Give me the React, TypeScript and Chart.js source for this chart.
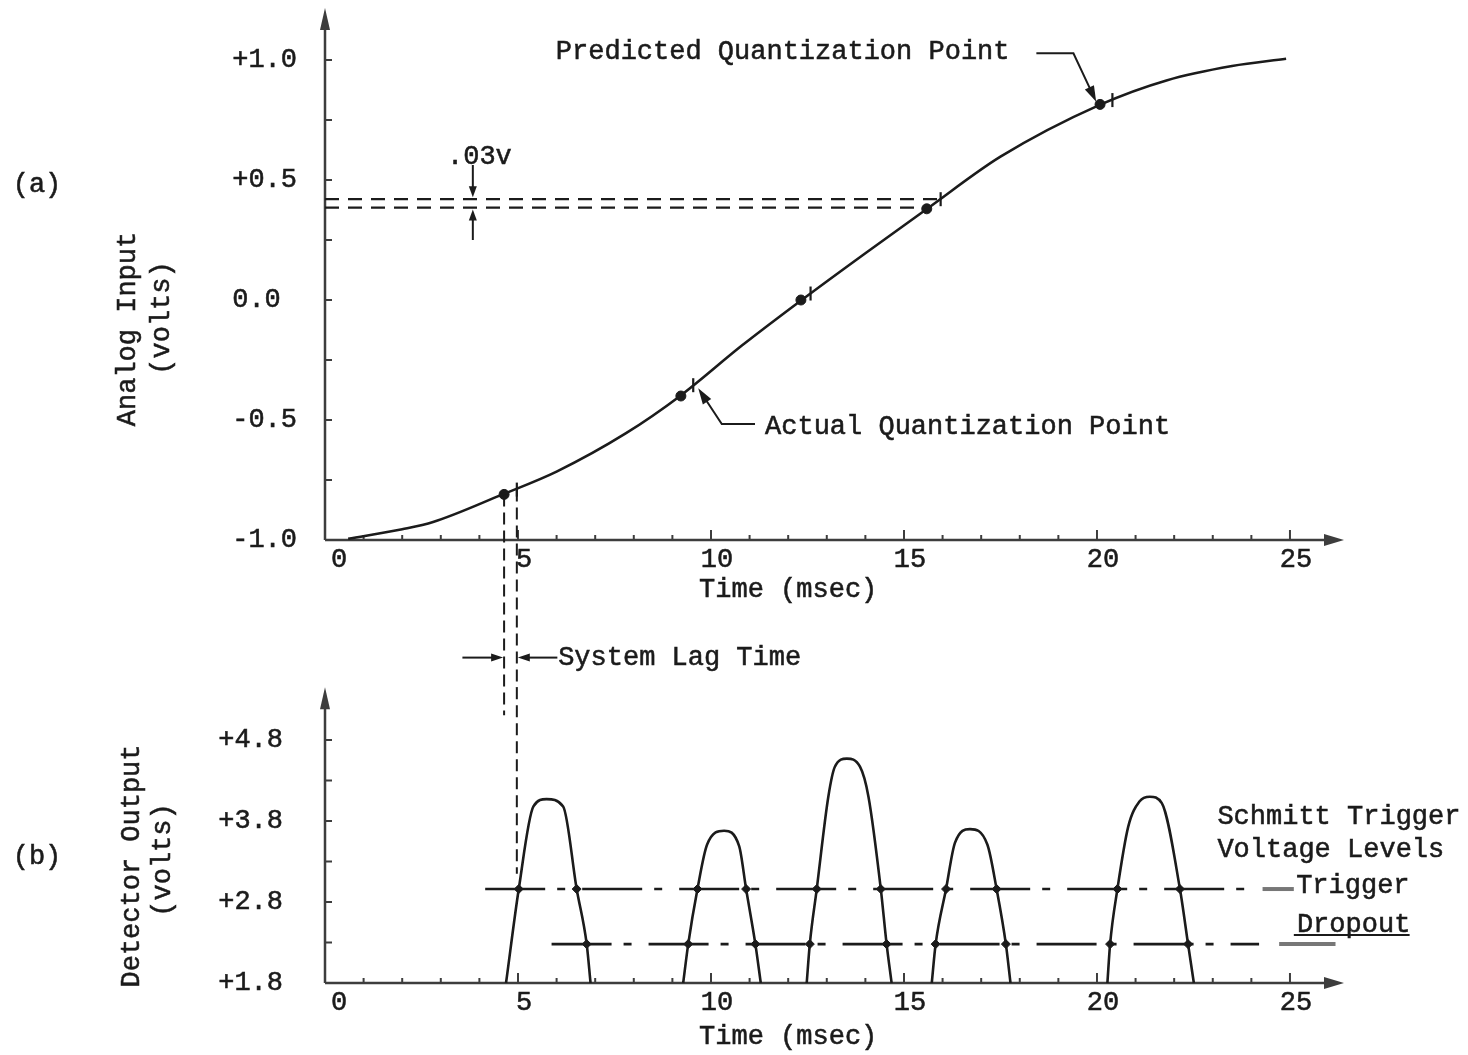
import React, { useEffect, useRef } from 'react';
import { Chart, registerables } from 'chart.js';

Chart.register(...registerables);

// ---------------- data: shared time axis ----------------
const TIME_TICKS = [0, 1, 2, 3, 4, 5, 6, 7, 8, 9, 10, 11, 12, 13, 14, 15, 16, 17, 18, 19, 20, 21, 22, 23, 24, 25, 26];
const TIME_LABELS: Record<number, string> = { 0: ' 0', 5: '5', 10: '10', 15: '15', 20: '20', 25: '25' };

// ---------------- data: (a) analog input ----------------
const ANALOG_Y_TICKS = [-1, -0.75, -0.5, -0.25, 0, 0.25, 0.5, 0.75, 1];
const ANALOG_Y_LABELS = ['-1.0', '', '-0.5', '', '0.0 ', '', '+0.5', '', '+1.0'];
const CURVE_T = [0.6, 2.0, 2.8, 4.6, 6.0, 7.8, 9.2, 10.8, 12.35, 14.0, 15.6, 17.5, 20.1, 21.8, 23.5, 24.9];
const CURVE_V = [-0.995, -0.955, -0.925, -0.81, -0.715, -0.555, -0.4, -0.19, 0.0, 0.195, 0.38, 0.597, 0.815, 0.915, 0.975, 1.005];
const ACTUAL_T = [4.64, 9.22, 12.33, 15.59, 20.08];
const ACTUAL_V = [-0.81, -0.4, 0.0, 0.38, 0.815];
const PREDICTED_T = [4.97, 9.54, 12.58, 15.95, 20.4];
const PREDICTED_V = [-0.79, -0.355, 0.027, 0.42, 0.833];
const PREDICTED_LEVEL = 0.42;
const ACTUAL_LEVEL = 0.385;

// ---------------- data: (b) detector output ----------------
const DETECTOR_Y_TICKS = [1.8, 2.3, 2.8, 3.3, 3.8, 4.3, 4.8];
const DETECTOR_Y_LABELS = ['+1.8', '', '+2.8', '', '+3.8', '', '+4.8'];
const TRIGGER = 2.96;
const DROPOUT = 2.28;
const TRIGGER_SPAN = [4.15, 23.83];
const DROPOUT_SPAN = [5.87, 24.2];
const PULSE_1_T = [4.69, 5.02, 5.4, 5.74, 6.17, 6.52, 6.78, 6.88];
const PULSE_1_V = [1.8, TRIGGER, 3.98, 4.07, 3.98, TRIGGER, DROPOUT, 1.8];
const PULSE_2_T = [9.28, 9.41, 9.65, 9.9, 10.34, 10.73, 10.91, 11.15, 11.29];
const PULSE_2_V = [1.8, DROPOUT, TRIGGER, 3.51, 3.68, 3.49, TRIGGER, DROPOUT, 1.8];
const PULSE_3_T = [12.48, 12.56, 12.74, 13.04, 13.21, 13.52, 13.86, 14.08, 14.4, 14.55, 14.68];
const PULSE_3_V = [1.8, DROPOUT, TRIGGER, 4.1, 4.47, 4.57, 4.47, 4.1, TRIGGER, DROPOUT, 1.8];
const PULSE_4_T = [15.72, 15.82, 16.09, 16.32, 16.71, 17.16, 17.4, 17.64, 17.76];
const PULSE_4_V = [1.8, DROPOUT, TRIGGER, 3.53, 3.7, 3.51, TRIGGER, DROPOUT, 1.8];
const PULSE_5_T = [20.27, 20.34, 20.53, 20.81, 21.1, 21.37, 21.68, 22.15, 22.36, 22.51];
const PULSE_5_V = [1.8, DROPOUT, TRIGGER, 3.73, 4.04, 4.1, 4.02, TRIGGER, DROPOUT, 1.8];
const PULSES_T = [PULSE_1_T, PULSE_2_T, PULSE_3_T, PULSE_4_T, PULSE_5_T];
const PULSES_V = [PULSE_1_V, PULSE_2_V, PULSE_3_V, PULSE_4_V, PULSE_5_V];

// ---------------- style / layout ----------------
const FONT = '"Liberation Mono", "Courier New", monospace';
const FS = 27;
const INK = '#1b1b1b';
const AXIS = '#3d3d3d';
const W = 1468;
const H = 1055;
const AREA_LEFT = 325;
const PAD_RIGHT = 124;
const X_MAX = 26.4;
const TOP_AREA_TOP = 24;
const TOP_AREA_BOTTOM = 540;
const TOP_Y_MAX = 1.15;
const BOT_AREA_TOP = 687.35;
const BOT_AREA_BOTTOM = 983;
const BOT_Y_MAX = 5.45;
const TEXT_STROKE = 0.55;

const pts = (ts: number[], vs: number[]) => ts.map((t, i) => ({ x: t, y: vs[i] }));

function head(ctx: any, x1: number, y1: number, x2: number, y2: number, len: number, half: number) {
  const a = Math.atan2(y2 - y1, x2 - x1);
  const bx = x2 - len * Math.cos(a);
  const by = y2 - len * Math.sin(a);
  ctx.beginPath();
  ctx.moveTo(x2, y2);
  ctx.lineTo(bx + half * Math.sin(a), by - half * Math.cos(a));
  ctx.lineTo(bx - half * Math.sin(a), by + half * Math.cos(a));
  ctx.closePath();
  ctx.fill();
}

function arrowPath(ctx: any, p: number[][], len = 13, half = 4.5) {
  ctx.beginPath();
  ctx.moveTo(p[0][0], p[0][1]);
  for (let i = 1; i < p.length - 1; i++) ctx.lineTo(p[i][0], p[i][1]);
  const a = p[p.length - 2];
  const b = p[p.length - 1];
  const ang = Math.atan2(b[1] - a[1], b[0] - a[0]);
  ctx.lineTo(b[0] - (len - 2) * Math.cos(ang), b[1] - (len - 2) * Math.sin(ang));
  ctx.stroke();
  head(ctx, a[0], a[1], b[0], b[1], len, half);
}

function text(ctx: any, s: string, x: number, y: number, align = 'left') {
  ctx.save();
  ctx.font = `${FS}px ${FONT}`;
  ctx.textAlign = align;
  ctx.textBaseline = 'middle';
  ctx.fillStyle = INK;
  ctx.strokeStyle = INK;
  ctx.lineWidth = TEXT_STROKE;
  ctx.fillText(s, x, y);
  ctx.strokeText(s, x, y);
  ctx.restore();
}

function vtext(ctx: any, s: string, x: number, y: number) {
  ctx.save();
  ctx.translate(x, y);
  ctx.rotate(-Math.PI / 2);
  text(ctx, s, 0, 0, 'center');
  ctx.restore();
}

function drawAxes(chart: any, yTicks: number[], yBase: number, arrowExtra: number) {
  const { ctx, chartArea: a } = chart;
  const xs = chart.scales.x;
  const ys = chart.scales.y;
  const x0 = xs.getPixelForValue(0);
  const y0 = ys.getPixelForValue(yBase);
  ctx.save();
  ctx.strokeStyle = AXIS;
  ctx.fillStyle = AXIS;
  ctx.lineWidth = 2.5;
  ctx.beginPath();
  ctx.moveTo(x0, y0);
  ctx.lineTo(a.right - 12, y0);
  ctx.stroke();
  head(ctx, x0, y0, a.right, y0, 20, 6);
  ctx.beginPath();
  ctx.moveTo(x0, y0);
  ctx.lineTo(x0, a.top - arrowExtra + 12);
  ctx.stroke();
  head(ctx, x0, y0, x0, a.top - arrowExtra, 22, 5);
  ctx.lineWidth = 2;
  TIME_TICKS.forEach((t) => {
    if (t === 0 || t > 25) return;
    const len = t % 5 === 0 ? 10 : 5;
    const p = xs.getPixelForValue(t);
    ctx.beginPath();
    ctx.moveTo(p, y0);
    ctx.lineTo(p, y0 - len);
    ctx.stroke();
  });
  yTicks.forEach((v) => {
    if (v === yBase) return;
    const p = ys.getPixelForValue(v);
    ctx.beginPath();
    ctx.moveTo(x0, p);
    ctx.lineTo(x0 + 7, p);
    ctx.stroke();
  });
  ctx.restore();
}

const topDeco = {
  id: 'topDeco',
  beforeDatasetsDraw(chart: any) {
    drawAxes(chart, ANALOG_Y_TICKS, -1, 16);
  },
  afterDatasetsDraw(chart: any) {
    const { ctx } = chart;
    const X = (v: number) => chart.scales.x.getPixelForValue(v);
    const Y = (v: number) => chart.scales.y.getPixelForValue(v);
    ctx.save();
    ctx.fillStyle = INK;
    ctx.strokeStyle = INK;
    ctx.lineWidth = 2;
    text(ctx, 'Predicted Quantization Point', X(5.98), Y(1.033));
    arrowPath(ctx, [[X(18.43), Y(1.028)], [X(19.39), Y(1.028)], [X(19.98), Y(0.826)]], 16, 5);
    text(ctx, 'Actual Quantization Point', X(11.4), Y(-0.529));
    arrowPath(ctx, [[X(11.14), Y(-0.517)], [X(10.28), Y(-0.517)], [X(9.67), Y(-0.368)]], 16, 5);
    text(ctx, '.03v', X(3.16), Y(0.596));
    arrowPath(ctx, [[X(3.83), Y(0.5625)], [X(3.83), Y(PREDICTED_LEVEL) - 2]], 11, 4);
    arrowPath(ctx, [[X(3.83), Y(0.25)], [X(3.83), Y(ACTUAL_LEVEL) + 2]], 11, 4);
    const yl = Y(-1.49);
    arrowPath(ctx, [[X(3.56), yl], [X(ACTUAL_T[0]) - 1, yl]], 12, 4);
    arrowPath(ctx, [[X(6.02), yl], [X(PREDICTED_T[0]) + 1, yl]], 12, 4);
    text(ctx, 'System Lag Time', X(6.04), yl);
    text(ctx, 'Time (msec)', X(12.0), Y(-1.208), 'center');
    text(ctx, '(a)', 37, Y(0.479), 'center');
    vtext(ctx, 'Analog Input', 128, 329);
    vtext(ctx, '(volts)', 162, 318);
    ctx.restore();
  },
};

const botDeco = {
  id: 'botDeco',
  beforeDatasetsDraw(chart: any) {
    drawAxes(chart, DETECTOR_Y_TICKS, 1.8, 0);
  },
  afterDatasetsDraw(chart: any) {
    const { ctx } = chart;
    const X = (v: number) => chart.scales.x.getPixelForValue(v);
    const Y = (v: number) => chart.scales.y.getPixelForValue(v);
    ctx.save();
    text(ctx, 'Time (msec)', X(12.0), Y(1.133), 'center');
    text(ctx, '(b)', 37, Y(3.356), 'center');
    vtext(ctx, 'Detector Output', 132, 866);
    vtext(ctx, '(volts)', 163, 860);
    text(ctx, 'Schmitt Trigger', X(23.12), Y(3.853));
    text(ctx, 'Voltage Levels', X(23.12), Y(3.442));
    // legend keys
    ctx.strokeStyle = '#777';
    ctx.lineWidth = 4;
    ctx.beginPath();
    ctx.moveTo(X(24.29), Y(TRIGGER));
    ctx.lineTo(X(25.1), Y(TRIGGER));
    ctx.stroke();
    ctx.beginPath();
    ctx.moveTo(X(24.72), Y(DROPOUT));
    ctx.lineTo(X(26.18), Y(DROPOUT));
    ctx.stroke();
    text(ctx, 'Trigger', X(25.16), Y(3.0));
    text(ctx, 'Dropout', X(25.18), Y(2.516));
    ctx.strokeStyle = INK;
    ctx.lineWidth = 2;
    ctx.beginPath();
    ctx.moveTo(X(25.1), Y(2.393));
    ctx.lineTo(X(28.1), Y(2.393));
    ctx.stroke();
    ctx.restore();
  },
};

const tickFont = { family: FONT, size: FS };

const timeScale = (labelPad: number, areaBottom: number) => ({
  type: 'linear',
  min: 0,
  max: X_MAX,
  grid: { display: false, drawTicks: false },
  border: { display: false },
  afterBuildTicks: (s: any) => {
    s.ticks = TIME_TICKS.map((v) => ({ value: v }));
  },
  afterFit: (s: any) => {
    s.height = H - areaBottom;
    s.paddingLeft = 0;
    s.paddingRight = 0;
    s.paddingTop = 0;
    s.paddingBottom = 0;
  },
  ticks: {
    autoSkip: false,
    maxRotation: 0,
    padding: labelPad,
    labelOffset: 6,
    color: INK,
    textStrokeColor: INK,
    textStrokeWidth: TEXT_STROKE,
    font: tickFont,
    callback: (v: number) => TIME_LABELS[v] ?? '',
  },
});

const valueScale = (min: number, max: number, ticks: number[], labels: string[], pad: number) => ({
  type: 'linear',
  min,
  max,
  grid: { display: false, drawTicks: false },
  border: { display: false },
  afterBuildTicks: (s: any) => {
    s.ticks = ticks.map((v) => ({ value: v }));
  },
  afterFit: (s: any) => {
    s.width = AREA_LEFT;
    s.paddingLeft = 0;
    s.paddingRight = 0;
    s.paddingTop = 0;
    s.paddingBottom = 0;
  },
  ticks: {
    padding: pad,
    color: INK,
    textStrokeColor: INK,
    textStrokeWidth: TEXT_STROKE,
    font: tickFont,
    callback: (_v: number, i: number) => labels[i] ?? '',
  },
});

function topConfig(): any {
  return {
    type: 'line',
    data: {
      datasets: [
        { data: pts(CURVE_T, CURVE_V), borderColor: INK, borderWidth: 2.6, pointRadius: 0, cubicInterpolationMode: 'monotone', fill: false },
        { data: [{ x: 0, y: PREDICTED_LEVEL }, { x: PREDICTED_T[3], y: PREDICTED_LEVEL }], borderColor: INK, borderWidth: 2.2, borderDash: [14, 9], pointRadius: 0 },
        { data: [{ x: 0, y: ACTUAL_LEVEL }, { x: ACTUAL_T[3], y: ACTUAL_LEVEL }], borderColor: INK, borderWidth: 2.2, borderDash: [14, 9], pointRadius: 0 },
        { data: [{ x: ACTUAL_T[0], y: ACTUAL_V[0] }, { x: ACTUAL_T[0], y: -1.73 }], borderColor: INK, borderWidth: 2, borderDash: [12, 6], pointRadius: 0, clip: false },
        { data: [{ x: PREDICTED_T[0], y: PREDICTED_V[0] }, { x: PREDICTED_T[0], y: -1.617 }], borderColor: INK, borderWidth: 2, borderDash: [12, 6], pointRadius: 0, clip: false },
        { data: pts(ACTUAL_T, ACTUAL_V), showLine: false, pointRadius: 5, pointBackgroundColor: INK, pointBorderColor: INK },
        { data: pts(PREDICTED_T, PREDICTED_V), showLine: false, pointStyle: 'line', rotation: 90, pointRadius: 7, pointBorderWidth: 2.2, pointBorderColor: INK },
      ],
    },
    options: {
      responsive: false,
      animation: false,
      events: [],
      layout: { padding: { left: 0, top: TOP_AREA_TOP, right: PAD_RIGHT, bottom: 0 } },
      plugins: { legend: { display: false }, tooltip: { enabled: false } },
      scales: {
        x: timeScale(4, TOP_AREA_BOTTOM),
        y: valueScale(-1, TOP_Y_MAX, ANALOG_Y_TICKS, ANALOG_Y_LABELS, 28),
      },
    },
    plugins: [topDeco],
  };
}

function bottomConfig(): any {
  const markers: { x: number; y: number }[] = [];
  PULSES_T.forEach((ts, k) => {
    ts.forEach((t, i) => {
      const v = PULSES_V[k][i];
      if (v === TRIGGER || v === DROPOUT) markers.push({ x: t, y: v });
    });
  });
  const pulseSets = PULSES_T.map((ts, k) => ({
    data: pts(ts, PULSES_V[k]),
    borderColor: INK,
    borderWidth: 2.6,
    pointRadius: 0,
    cubicInterpolationMode: 'monotone',
    fill: false,
  }));
  return {
    type: 'line',
    data: {
      datasets: [
        { data: [{ x: TRIGGER_SPAN[0], y: TRIGGER }, { x: TRIGGER_SPAN[1], y: TRIGGER }], borderColor: INK, borderWidth: 2.6, borderDash: [60, 12, 8, 17], pointRadius: 0 },
        { data: [{ x: DROPOUT_SPAN[0], y: DROPOUT }, { x: DROPOUT_SPAN[1], y: DROPOUT }], borderColor: INK, borderWidth: 2.6, borderDash: [60, 12, 8, 17], pointRadius: 0 },
        ...pulseSets,
        { data: markers, showLine: false, pointStyle: 'rectRot', pointRadius: 4.5, pointBackgroundColor: INK, pointBorderColor: INK },
        { data: [{ x: PREDICTED_T[0], y: BOT_Y_MAX }, { x: PREDICTED_T[0], y: 3.15 }], borderColor: INK, borderWidth: 2, borderDash: [12, 6], pointRadius: 0, clip: false },
      ],
    },
    options: {
      responsive: false,
      animation: false,
      events: [],
      layout: { padding: { left: 0, top: BOT_AREA_TOP, right: PAD_RIGHT, bottom: 0 } },
      plugins: { legend: { display: false }, tooltip: { enabled: false } },
      scales: {
        x: timeScale(4, BOT_AREA_BOTTOM),
        y: valueScale(1.8, BOT_Y_MAX, DETECTOR_Y_TICKS, DETECTOR_Y_LABELS, 42),
      },
    },
    plugins: [botDeco],
  };
}

export default function App() {
  const topRef = useRef<HTMLCanvasElement>(null);
  const botRef = useRef<HTMLCanvasElement>(null);
  useEffect(() => {
    const c1 = new Chart(topRef.current as HTMLCanvasElement, topConfig());
    const c2 = new Chart(botRef.current as HTMLCanvasElement, bottomConfig());
    return () => {
      c1.destroy();
      c2.destroy();
    };
  }, []);
  return (
    <div style={{ position: 'absolute', left: 0, top: 0, width: W, height: H, background: '#ffffff', overflow: 'hidden' }}>
      <canvas ref={topRef} width={W} height={H} style={{ position: 'absolute', left: 0, top: 0 }} />
      <canvas ref={botRef} width={W} height={H} style={{ position: 'absolute', left: 0, top: 0 }} />
    </div>
  );
}
